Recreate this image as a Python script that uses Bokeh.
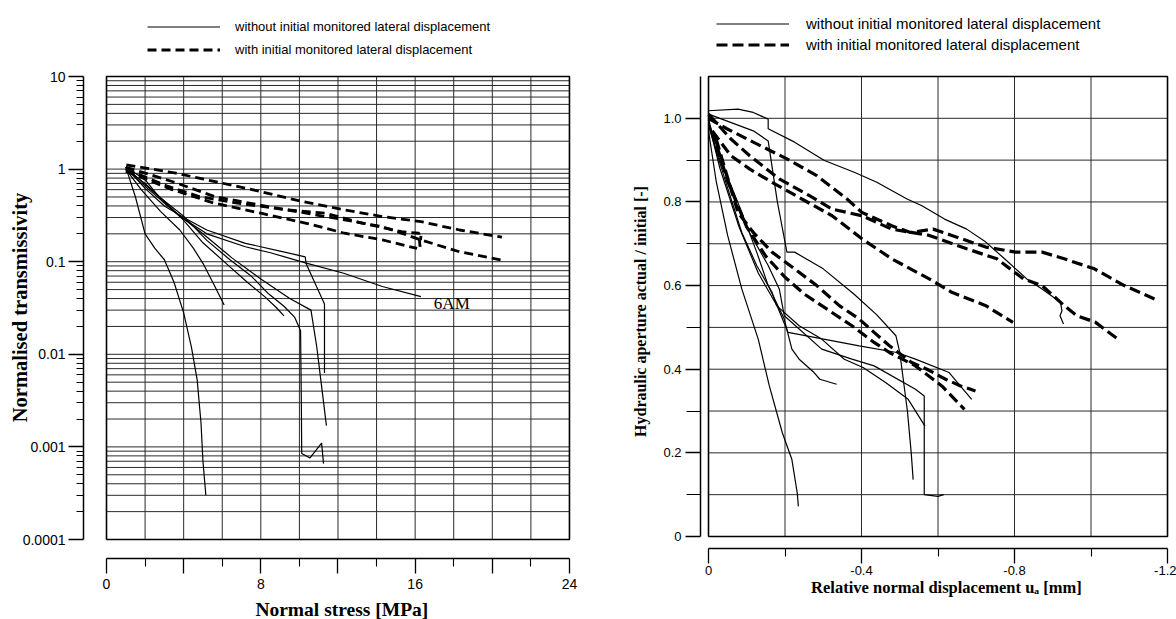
import math
from bokeh.plotting import figure
from bokeh.models import Range1d, FixedTicker, CustomJSTickFormatter, Legend, LegendItem, Label
from bokeh.layouts import row
from bokeh.embed import file_html
from bokeh.resources import INLINE

SANS = "Liberation Sans"
SERIF = "Liberation Serif"

LEG_SOLID = "without initial monitored lateral displacement"
LEG_DASH = "with initial monitored lateral displacement"

# ---------------- Left panel: normal stress [MPa] vs normalised transmissivity
L_title_x = "Normal stress [MPa]"
L_title_y = "Normalised transmissivity"
L_xticks_major = [0, 4, 8, 12, 16, 20, 24]
L_xticks_minor = [2, 6, 10, 14, 18, 22]
L_grid_x = [0, 2, 4, 6, 8, 10, 12, 14, 16, 18, 20, 22, 24]
L_yticks_major = [0.0001, 0.001, 0.01, 0.1, 1, 10]
L_yticks_minor = [m * d for d in [0.0001, 0.001, 0.01, 0.1, 1] for m in range(2, 10)]

# solid: without initial monitored lateral displacement
L_s1_x = [1.0, 1.5, 2.0, 2.5, 3.0, 3.5, 4.0, 4.4, 4.7, 4.9, 5.0, 5.15]
L_s1_y = [1.05, 0.5, 0.2, 0.14, 0.105, 0.06, 0.028, 0.012, 0.0053, 0.0018, 0.0007, 0.0003]
L_s2_x = [1.0, 1.8, 2.8, 3.8, 4.5, 5.0, 5.6, 6.1]
L_s2_y = [1.0, 0.6, 0.35, 0.22, 0.14, 0.096, 0.055, 0.034]
L_s3_x = [1.0, 2.0, 3.0, 4.0, 5.0, 6.4, 7.3, 8.2, 8.8, 9.2]
L_s3_y = [1.0, 0.7, 0.45, 0.28, 0.16, 0.088, 0.06, 0.042, 0.032, 0.026]
L_s4_x = [1.0, 2.5, 4.0, 5.2, 6.4, 7.5, 8.4, 9.2, 9.76, 10.06, 10.1, 10.12, 10.55, 11.15, 11.25]
L_s4_y = [1.05, 0.55, 0.31, 0.17, 0.105, 0.07, 0.045, 0.033, 0.025, 0.018, 0.003, 0.00085, 0.00076, 0.0011, 0.00066]
L_s5_x = [1.0, 2.0, 3.0, 4.0, 5.2, 7.2, 9.0, 10.3, 10.35, 11.3, 11.3]
L_s5_y = [1.05, 0.62, 0.4, 0.3, 0.22, 0.158, 0.13, 0.113, 0.095, 0.035, 0.0063]
L_s6_x = [1.0, 2.2, 3.5, 5.0, 6.5, 8.0, 9.5, 10.6, 10.9, 11.1, 11.4]
L_s6_y = [1.0, 0.6, 0.35, 0.2, 0.11, 0.065, 0.04, 0.03, 0.012, 0.0055, 0.0017]
L_s7_x = [1.0, 2.0, 2.9, 3.8, 5.2, 7.2, 8.5, 10.4, 12.3, 14.3, 16.3]
L_s7_y = [1.05, 0.77, 0.45, 0.31, 0.2, 0.145, 0.125, 0.096, 0.075, 0.054, 0.042]

# dashed: with initial monitored lateral displacement
L_d1_x = [1.03, 3.6, 6.0, 7.98, 10.16, 12.34, 14.3, 16.3, 18.3, 20.5]
L_d1_y = [1.11, 0.905, 0.705, 0.573, 0.446, 0.363, 0.307, 0.271, 0.22, 0.184]
L_d2_x = [1.0, 3.4, 5.6, 8.37, 10.36, 12.34, 14.3, 16.3, 18.3, 20.5]
L_d2_y = [1.05, 0.735, 0.506, 0.394, 0.334, 0.283, 0.239, 0.172, 0.128, 0.104]
L_d3_x = [1.0, 3.2, 4.8, 6.8, 9.37, 11.35, 13.3, 15.3, 16.2, 16.25, 16.3]
L_d3_y = [1.0, 0.65, 0.506, 0.428, 0.363, 0.334, 0.26, 0.211, 0.203, 0.145, 0.19]
L_d4_x = [1.0, 3.4, 5.6, 8.0, 10.36, 12.34, 14.3, 16.1]
L_d4_y = [0.95, 0.6, 0.428, 0.334, 0.26, 0.203, 0.172, 0.139]

L_label_text = "6AM"
L_label_x = 17.9
L_label_y = 0.035

# ---------------- Right panel: relative normal displacement vs hydraulic aperture ratio
R_title_x = "Relative normal displacement u\u2090 [mm]"
R_title_y = "Hydraulic aperture actual / initial [-]"
R_xticks_major = [0, -0.4, -0.8, -1.2]
R_xticks_minor = [-0.2, -0.6, -1.0]
R_yticks_major = [0, 0.2, 0.4, 0.6, 0.8, 1.0]
R_yticks_minor = [0.1, 0.3, 0.5, 0.7, 0.9]
R_grid_x = [0, -0.2, -0.4, -0.6, -0.8, -1.0, -1.2]
R_grid_y = [0, 0.1, 0.2, 0.3, 0.4, 0.5, 0.6, 0.7, 0.8, 0.9, 1.0, 1.1]

R_s1_x = [0, -0.077, -0.117, -0.156, -0.156, -0.225, -0.303, -0.381, -0.44, -0.519, -0.558, -0.617, -0.675, -0.725, -0.774, -0.832, -0.872, -0.92, -0.924, -0.919, -0.928]
R_s1_y = [1.018, 1.022, 1.014, 0.998, 0.975, 0.943, 0.899, 0.871, 0.847, 0.807, 0.791, 0.759, 0.735, 0.704, 0.664, 0.616, 0.592, 0.56, 0.54, 0.528, 0.508]
R_s2_x = [0, -0.02, -0.05, -0.087, -0.13, -0.159, -0.193, -0.218, -0.232, -0.235]
R_s2_y = [0.97, 0.85, 0.72, 0.592, 0.472, 0.36, 0.248, 0.184, 0.104, 0.072]
R_s3_x = [-0.004, -0.038, -0.087, -0.126, -0.156, -0.198, -0.218, -0.237, -0.276, -0.291, -0.335]
R_s3_y = [0.982, 0.887, 0.775, 0.68, 0.6, 0.52, 0.448, 0.424, 0.392, 0.376, 0.364]
R_s4_x = [0, -0.117, -0.156, -0.18, -0.205, -0.225, -0.3, -0.38, -0.44, -0.49, -0.5, -0.52, -0.53, -0.535]
R_s4_y = [1.01, 0.97, 0.946, 0.8, 0.68, 0.68, 0.64, 0.58, 0.53, 0.48, 0.44, 0.3, 0.2, 0.136]
R_s5_x = [0, -0.019, -0.068, -0.107, -0.156, -0.185, -0.198, -0.296, -0.375, -0.433, -0.541, -0.564, -0.564, -0.6, -0.615]
R_s5_y = [1.0, 0.927, 0.807, 0.727, 0.648, 0.592, 0.528, 0.448, 0.424, 0.408, 0.352, 0.336, 0.1, 0.096, 0.1]
R_s6_x = [0, -0.03, -0.08, -0.13, -0.18, -0.208, -0.394, -0.492, -0.541, -0.629, -0.688]
R_s6_y = [0.99, 0.88, 0.74, 0.63, 0.55, 0.488, 0.456, 0.44, 0.424, 0.392, 0.328]
R_s7_x = [0, -0.048, -0.087, -0.126, -0.166, -0.178, -0.237, -0.296, -0.355, -0.404, -0.463, -0.522, -0.566]
R_s7_y = [0.982, 0.839, 0.727, 0.648, 0.584, 0.552, 0.504, 0.472, 0.424, 0.404, 0.368, 0.328, 0.264]

R_d1_x = [0, -0.048, -0.117, -0.205, -0.283, -0.362, -0.401, -0.479, -0.528, -0.587, -0.636, -0.725, -0.803, -0.872, -0.93, -1.009, -1.087, -1.166]
R_d1_y = [1.0, 0.975, 0.943, 0.903, 0.863, 0.807, 0.775, 0.743, 0.727, 0.735, 0.72, 0.692, 0.68, 0.68, 0.664, 0.64, 0.6, 0.568]
R_d2_x = [0, -0.058, -0.107, -0.185, -0.264, -0.323, -0.401, -0.479, -0.577, -0.675, -0.754, -0.823, -0.872, -0.93, -0.963, -1.012, -1.07]
R_d2_y = [1.01, 0.951, 0.911, 0.855, 0.815, 0.783, 0.767, 0.735, 0.72, 0.688, 0.664, 0.616, 0.6, 0.552, 0.528, 0.512, 0.472]
R_d3_x = [-0.01, -0.058, -0.107, -0.166, -0.244, -0.323, -0.401, -0.479, -0.577, -0.636, -0.725, -0.767, -0.796]
R_d3_y = [0.97, 0.911, 0.879, 0.847, 0.807, 0.767, 0.712, 0.664, 0.616, 0.584, 0.552, 0.528, 0.512]
R_d4_x = [-0.02, -0.077, -0.117, -0.166, -0.225, -0.283, -0.342, -0.394, -0.433, -0.473, -0.531, -0.571, -0.62, -0.659, -0.698]
R_d4_y = [0.95, 0.775, 0.727, 0.68, 0.64, 0.6, 0.552, 0.52, 0.488, 0.456, 0.416, 0.4, 0.376, 0.36, 0.348]
R_d5_x = [-0.01, -0.05, -0.1, -0.15, -0.2, -0.25, -0.296, -0.375, -0.433, -0.473, -0.541, -0.61, -0.669]
R_d5_y = [0.97, 0.85, 0.74, 0.67, 0.62, 0.58, 0.552, 0.504, 0.464, 0.44, 0.408, 0.36, 0.304]

GRID_COLOR = "#2a2a2a"


def style_axis(ax, font_size, tick_out, minor_out, label_standoff):
    ax.axis_line_color = "black"
    ax.axis_line_width = 1.5
    ax.major_tick_line_color = "black"
    ax.minor_tick_line_color = "black"
    ax.major_tick_line_width = 1.3
    ax.minor_tick_line_width = 1.1
    ax.major_tick_in = 0
    ax.minor_tick_in = 0
    ax.major_tick_out = tick_out
    ax.minor_tick_out = minor_out
    ax.major_label_text_font = SANS
    ax.major_label_text_font_size = font_size
    ax.major_label_text_color = "black"
    ax.major_label_standoff = label_standoff


def title_label(text, x, y, size, angle=0.0):
    return Label(x=x, y=y, text=text, angle=angle, text_font=SERIF, text_font_style="bold",
                 text_font_size=size, text_align="center", text_baseline="middle", text_color="black")


def make_legend(solid_r, dash_r, loc, font_size, glyph_h, label_standoff):
    return Legend(
        items=[LegendItem(label=LEG_SOLID, renderers=[solid_r]),
               LegendItem(label=LEG_DASH, renderers=[dash_r])],
        location=loc, orientation="vertical",
        border_line_color=None, background_fill_alpha=0,
        padding=0, margin=0, spacing=4,
        glyph_width=73, glyph_height=glyph_h, label_height=glyph_h,
        label_standoff=label_standoff,
        label_text_font=SANS, label_text_font_size=font_size, label_text_color="black",
    )


def bare_figure(w, h, xr, yr, **kw):
    p = figure(width=w, height=h, x_range=xr, y_range=yr, output_backend="svg", toolbar_location=None,
               min_border_left=0, min_border_right=0, min_border_top=0, min_border_bottom=0, **kw)
    p.xgrid.visible = False
    p.ygrid.visible = False
    p.outline_line_color = None
    p.background_fill_color = "white"
    p.border_fill_color = "white"
    return p


# ================= LEFT FIGURE (frame covers the whole canvas; axes sit at fixed locations)
p1 = bare_figure(590, 619, Range1d(-5.495, 25.09), Range1d(1.368e-5, 66.2), y_axis_type="log")

xa = p1.xaxis[0]
xa.ticker = FixedTicker(ticks=L_xticks_major, minor_ticks=L_xticks_minor)
xa.formatter = CustomJSTickFormatter(code="return (tick % 8 == 0) ? tick.toString() : '';")
xa.bounds = (L_grid_x[0], L_grid_x[-1])
xa.fixed_location = 6.24e-5
style_axis(xa, "14px", 15, 8, 6)

ya = p1.yaxis[0]
ya.ticker = FixedTicker(ticks=L_yticks_major, minor_ticks=L_yticks_minor)
ya.formatter = CustomJSTickFormatter(code="return tick.toString();")
ya.bounds = (L_yticks_major[0], L_yticks_major[-1])
ya.fixed_location = -1.192
style_axis(ya, "14px", 15, 7, 3)

L_hgrid = L_yticks_major + L_yticks_minor
p1.segment(x0=[L_grid_x[0]] * len(L_hgrid), x1=[L_grid_x[-1]] * len(L_hgrid), y0=L_hgrid, y1=L_hgrid,
           line_color=GRID_COLOR, line_width=1)
p1.segment(x0=L_grid_x, x1=L_grid_x, y0=[L_yticks_major[0]] * len(L_grid_x), y1=[L_yticks_major[-1]] * len(L_grid_x),
           line_color=GRID_COLOR, line_width=1)
p1.line(x=[L_grid_x[0], L_grid_x[-1], L_grid_x[-1], L_grid_x[0], L_grid_x[0]],
        y=[L_yticks_major[0], L_yticks_major[0], L_yticks_major[-1], L_yticks_major[-1], L_yticks_major[0]],
        line_color="black", line_width=1.6)

left_solid = [(L_s1_x, L_s1_y), (L_s2_x, L_s2_y), (L_s3_x, L_s3_y), (L_s4_x, L_s4_y),
              (L_s5_x, L_s5_y), (L_s6_x, L_s6_y), (L_s7_x, L_s7_y)]
left_dash = [(L_d1_x, L_d1_y), (L_d2_x, L_d2_y), (L_d3_x, L_d3_y), (L_d4_x, L_d4_y)]

ls_r = [p1.line(x=xs, y=ys, line_color="black", line_width=1.2) for xs, ys in left_solid]
ld_r = [p1.line(x=xs, y=ys, line_color="black", line_width=2.8, line_dash="9 5") for xs, ys in left_dash]

p1.add_layout(Label(x=L_label_x, y=L_label_y, text=L_label_text, text_font=SERIF, text_font_size="17px",
                    text_align="center", text_baseline="middle", text_color="black"))

p1.add_layout(title_label(L_title_x, 12.2, 1.75e-5, "19.5px"))
p1.add_layout(title_label(L_title_y, -4.46, 0.032, "20.5px", math.pi / 2))

p1.add_layout(make_legend(ls_r[0], ld_r[0], (147, 560.5), "13px", 19, 15))

# ================= RIGHT FIGURE
p2 = bare_figure(586, 619, Range1d(0.3085, -1.2235), Range1d(-0.1985, 1.2817))

xb = p2.xaxis[0]
xb.ticker = FixedTicker(ticks=R_xticks_major, minor_ticks=R_xticks_minor)
xb.formatter = CustomJSTickFormatter(code="return tick == 0 ? '0' : tick.toFixed(1);")
xb.bounds = (R_grid_x[-1], R_grid_x[0])
xb.fixed_location = -0.0287
style_axis(xb, "13px", 15, 8, 3)

yb = p2.yaxis[0]
yb.ticker = FixedTicker(ticks=R_yticks_major, minor_ticks=R_yticks_minor)
yb.formatter = CustomJSTickFormatter(code="return tick == 0 ? '0' : tick.toFixed(1);")
yb.bounds = (R_grid_y[0], R_grid_y[-1])
yb.fixed_location = 0.0209
style_axis(yb, "13px", 15, 14, 4)

p2.segment(x0=[R_grid_x[0]] * len(R_grid_y), x1=[R_grid_x[-1]] * len(R_grid_y), y0=R_grid_y, y1=R_grid_y,
           line_color=GRID_COLOR, line_width=1)
p2.segment(x0=R_grid_x, x1=R_grid_x, y0=[R_grid_y[0]] * len(R_grid_x), y1=[R_grid_y[-1]] * len(R_grid_x),
           line_color=GRID_COLOR, line_width=1)
p2.line(x=[R_grid_x[0], R_grid_x[-1], R_grid_x[-1], R_grid_x[0], R_grid_x[0]],
        y=[R_grid_y[0], R_grid_y[0], R_grid_y[-1], R_grid_y[-1], R_grid_y[0]],
        line_color="black", line_width=1.6)

right_solid = [(R_s1_x, R_s1_y), (R_s2_x, R_s2_y), (R_s3_x, R_s3_y), (R_s4_x, R_s4_y),
               (R_s5_x, R_s5_y), (R_s6_x, R_s6_y), (R_s7_x, R_s7_y)]
right_dash = [(R_d1_x, R_d1_y), (R_d2_x, R_d2_y), (R_d3_x, R_d3_y), (R_d4_x, R_d4_y), (R_d5_x, R_d5_y)]

rs_r = [p2.line(x=xs, y=ys, line_color="black", line_width=1.2) for xs, ys in right_solid]
rd_r = [p2.line(x=xs, y=ys, line_color="black", line_width=3.2, line_dash="11 5") for xs, ys in right_dash]

p2.add_layout(title_label(R_title_x, -0.622, -0.122, "16.5px"))
p2.add_layout(title_label(R_title_y, 0.1778, 0.538, "16px", math.pi / 2))

p2.add_layout(make_legend(rs_r[0], rd_r[0], (126, 566.5), "15px", 17, 17))

layout = row(p1, p2)
open("out.html", "w").write(file_html(layout, INLINE))
